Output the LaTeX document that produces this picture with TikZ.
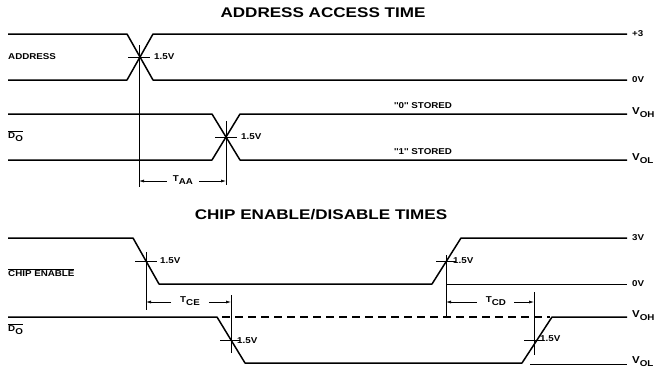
\documentclass[tikz,border=0pt]{standalone}
\usepackage{fontspec}
\setmainfont{Liberation Sans}
\newfontfamily\wideA[FakeStretch=1.15]{Liberation Sans}
\newfontfamily\wideT[FakeStretch=1.22]{Liberation Sans}
\usetikzlibrary{arrows.meta}
\newcommand\dsub[2]{#1\raisebox{-3pt}{#2}}
\begin{document}
\begin{tikzpicture}[x=1pt,y=-1pt,
 sig/.style={line width=1.5pt, line join=round},
 ref/.style={line width=0.6pt},
 tick/.style={line width=0.6pt},
 lab/.style={font=\wideA\fontsize{8.5}{9}\selectfont\bfseries, inner sep=0pt, anchor=west},
 vlab/.style={font=\wideA\fontsize{10}{11}\selectfont\bfseries, inner sep=0pt, anchor=west},
 ttl/.style={font=\wideT\fontsize{14}{16}\selectfont\bfseries, inner sep=0pt},
 dim/.style={line width=0.6pt, -{Latex[length=5pt,width=3pt]}}
]
\useasboundingbox (0,0) rectangle (658,373);
% titles
\node[ttl] (t1) at (323,13) {ADDRESS ACCESS TIME};
\node[ttl] (t2) at (321,215) {CHIP ENABLE/DISABLE TIMES};
% ---------- address access ----------
\node[lab] (addr) at (8,57) {ADDRESS};
\draw[sig] (8,34) -- (127,34) -- (153,80) -- (627,80);
\draw[sig] (8,80) -- (127,80) -- (153,34) -- (627,34);
\draw[tick] (128,57) -- (150,57);
\draw[tick] (139,45) -- (139,187);
\node[lab] (va) at (154,57) {1.5V};
\node[lab] (p3) at (632,34) {+3};
\node[lab] (z1) at (632,80) {0V};

\node[lab] (do1) at (8,136) {$\overline{\mbox{\dsub{D}{O}}}$};
\draw[sig] (8,114) -- (212,114) -- (240,160) -- (627,160);
\draw[sig] (8,160) -- (212,160) -- (240,114) -- (627,114);
\draw[tick] (215,137) -- (237,137);
\draw[tick] (226,121) -- (226,185);
\node[lab] (vb) at (241,137) {1.5V};
\node[lab, anchor=center] (s0) at (423,106) {''0'' STORED};
\node[lab, anchor=center] (s1) at (423,152) {''1'' STORED};
\node[vlab] (voh1) at (632,113) {\dsub{V}{\fontsize{8.5}{9}\selectfont OH}};
\node[vlab] (vol1) at (632,159) {\dsub{V}{\fontsize{8.5}{9}\selectfont OL}};

\node[lab, anchor=center] (taa) at (183,180) {\dsub{T}{AA}};
\coordinate (taaL) at (139,181);
\coordinate (taaR) at (226,181);
\draw[dim] (taa.west) ++(-6,1) -- (taaL);
\draw[dim] (taa.east) ++(6,1) -- (taaR);

% ---------- chip enable ----------
\node[lab] (ce) at (8,273) {$\overline{\mbox{CHIP ENABLE}}$};
\draw[sig] (8,238) -- (133,238) -- (159,284) -- (432,284) -- (461,238) -- (627,238);
\draw[ref] (447,284) -- (627,284);
\draw[tick] (135,261) -- (157,261);
\draw[tick] (146,252) -- (146,310);
\node[lab] (vc) at (160,261) {1.5V};
\draw[tick] (436,261) -- (456,261);
\draw[tick] (446,255) -- (446,317);
\node[lab] (vd) at (453,261) {1.5V};
\node[lab] (v3) at (632,238) {3V};
\node[lab] (z2) at (632,284) {0V};

\node[lab] (do2) at (8,329) {$\overline{\mbox{\dsub{D}{O}}}$};
\draw[sig] (8,317) -- (217,317) -- (245,363) -- (522,363) -- (552,317) -- (627,317);
\draw[line width=1.2pt, dash pattern=on 8pt off 5pt] (222,317) -- (550,317);
\draw[ref] (530,364) -- (627,364);
\draw[tick] (220,340) -- (240,340);
\draw[tick] (231,295) -- (231,353);
\node[lab] (ve) at (237,341) {1.5V};
\draw[tick] (524,340) -- (544,340);
\draw[tick] (534,292) -- (534,355);
\node[lab] (vf) at (540,339) {1.5V};
\node[vlab] (voh2) at (632,316) {\dsub{V}{\fontsize{8.5}{9}\selectfont OH}};
\node[vlab] (vol2) at (632,362) {\dsub{V}{\fontsize{8.5}{9}\selectfont OL}};

\node[lab, anchor=center] (tce) at (190,301) {\dsub{T}{CE}};
\coordinate (tceL) at (146,302);
\coordinate (tceR) at (231,302);
\draw[dim] (tce.west) ++(-9,1) -- (tceL);
\draw[dim] (tce.east) ++(9,1) -- (tceR);

\node[lab, anchor=center] (tcd) at (496,301) {\dsub{T}{CD}};
\coordinate (tcdL) at (446,302);
\coordinate (tcdR) at (534,302);
\draw[dim] (tcd.west) ++(-9,1) -- (tcdL);
\draw[dim] (tcd.east) ++(8,1) -- (tcdR);
\end{tikzpicture}
\end{document}
